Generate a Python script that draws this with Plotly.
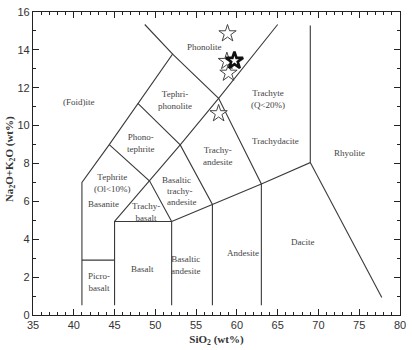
import plotly.graph_objects as go

# TAS classification boundaries (SiO2, Na2O+K2O)
boundary_x = [
    [41, 41, 44.35, 47.86, 52.12, 48.7],
    [41, 45],
    [45, 45, 52, 52],
    [45, 49.3, 53.05, 57.76, 65.0],
    [44.35, 49.3, 52],
    [47.86, 53.05, 57, 57],
    [52.12, 57.76, 63, 63],
    [52, 57, 63, 69, 69],
    [69, 77.77],
]
boundary_y = [
    [0.52, 7.0, 9.0, 11.18, 13.78, 15.34],
    [2.9, 2.9],
    [0.52, 4.94, 4.94, 0.52],
    [4.94, 7.07, 8.98, 11.44, 15.34],
    [9.0, 7.07, 4.94],
    [11.18, 8.98, 5.84, 0.52],
    [13.78, 11.44, 6.92, 0.52],
    [4.94, 5.84, 6.92, 8.05, 15.29],
    [8.05, 0.92],
]

# Field names
label_text = ["(Foid)ite", "Phonolite", "Tephri-<br>phonolite", "Phono-<br>tephrite",
              "Tephrite<br>(Ol<10%)", "Basanite", "Trachy-<br>basalt",
              "Basaltic", "trachy-", "andesite",
              "Trachy-<br>andesite", "Trachyte<br>(Q<20%)", "Trachydacite", "Rhyolite",
              "Dacite", "Andesite", "Basaltic<br>andesite", "Basalt", "Picro-<br>basalt"]
label_x = [40.64, 56.07, 52.39, 48.29, 44.75, 43.66, 48.9,
           52.55, 52.95, 53.3,
           57.72, 63.8, 64.73, 73.79, 68.1, 60.7, 53.73, 48.41, 43.06]
label_y = [11.27, 14.13, 11.34, 9.10, 6.98, 5.86, 5.44,
           7.12, 6.55, 5.98,
           8.37, 11.42, 9.19, 8.58, 3.86, 3.29, 2.62, 2.43, 1.72]

# Samples
sample_sio2 = [58.85, 58.77, 58.97, 57.76]
sample_alk = [14.86, 13.40, 12.78, 10.64]
bold_sio2 = [59.7]
bold_alk = [13.43]

x_ticks = [35, 40, 45, 50, 55, 60, 65, 70, 75, 80]
y_ticks = [0, 2, 4, 6, 8, 10, 12, 14, 16]

fig = go.Figure()
line_color = "#3a3a3a"
for bx, by in zip(boundary_x, boundary_y):
    fig.add_trace(go.Scatter(x=bx, y=by, mode="lines",
                             line=dict(color=line_color, width=1.1),
                             hoverinfo="skip", showlegend=False))

fig.add_trace(go.Scatter(x=sample_sio2, y=sample_alk, mode="markers",
                         marker=dict(symbol="star", size=13, color="white",
                                     line=dict(color="#444", width=1)),
                         showlegend=False))
fig.add_trace(go.Scatter(x=bold_sio2, y=bold_alk, mode="markers",
                         marker=dict(symbol="star", size=13, color="white",
                                     line=dict(color="#111", width=2.6)),
                         showlegend=False))

for t, xx, yy in zip(label_text, label_x, label_y):
    fig.add_annotation(x=xx, y=yy, text=t, showarrow=False,
                       font=dict(family="Liberation Serif", size=9, color="#444"),
                       align="center")

fig.add_annotation(xref="paper", yref="paper", x=-0.064, y=0.513,
                   text="<b>Na<sub>2</sub>O+K<sub>2</sub>O (wt%)</b>", textangle=-90,
                   showarrow=False, xanchor="center", yanchor="middle",
                   font=dict(family="Liberation Serif", size=11, color="#333"))

axis_common = dict(showline=True, linecolor="#222", linewidth=1.3, mirror="ticks",
                   ticks="inside", tickcolor="#222", ticklen=6, tickwidth=1.2,
                   showgrid=False, zeroline=False,
                   tickfont=dict(family="Liberation Sans", size=11, color="#333"))

fig.update_xaxes(range=[35, 80], tickvals=x_ticks, **axis_common,
                 minor=dict(dtick=1, ticks="inside", ticklen=3, tickcolor="#222", tickwidth=1),
                 title=dict(text="<b>SiO<sub>2</sub> (wt%)</b>", standoff=4,
                            font=dict(family="Liberation Serif", size=11, color="#333")))
fig.update_yaxes(range=[0, 16], tickvals=y_ticks, **axis_common,
                 minor=dict(dtick=1, ticks="inside", ticklen=3, tickcolor="#222", tickwidth=1))

fig.update_layout(width=412, height=350, margin=dict(l=33, r=6, t=7, b=35),
                  plot_bgcolor="white", paper_bgcolor="white")

fig.write_html("out.html")
